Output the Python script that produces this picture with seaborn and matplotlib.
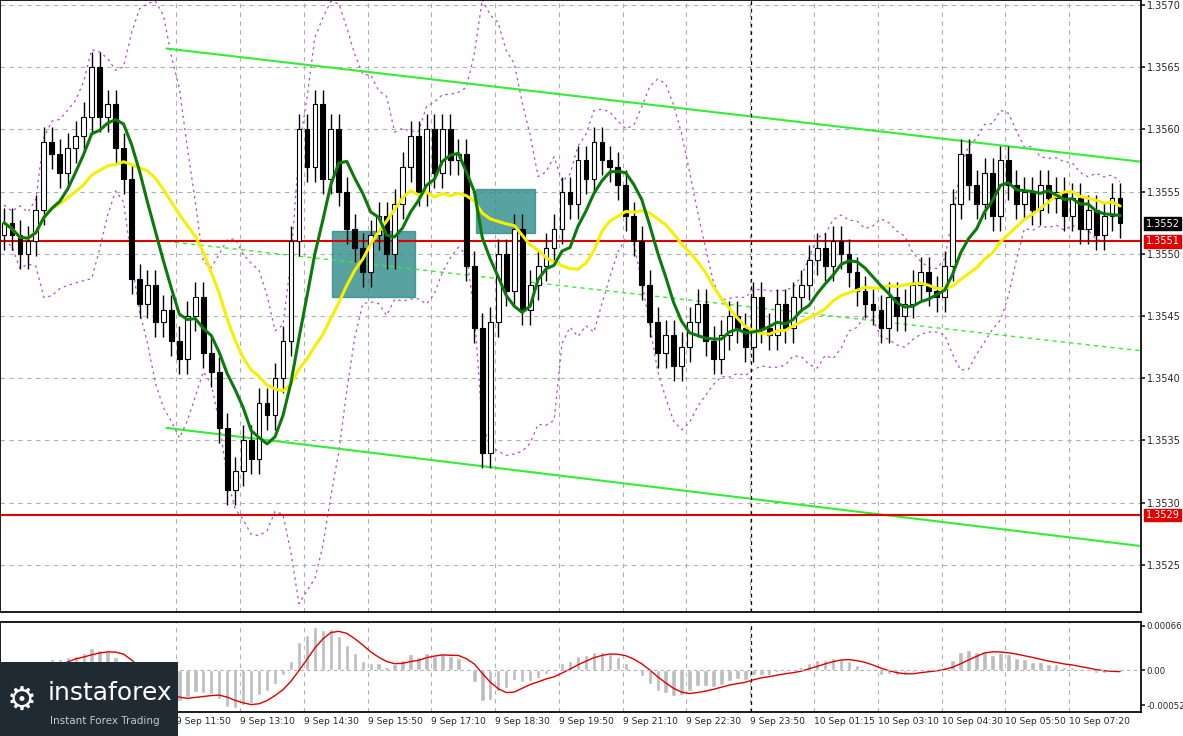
import numpy as np
import pandas as pd
import matplotlib.pyplot as plt
import seaborn as sns
from matplotlib.patches import Rectangle

sns.set_theme(style="white")
plt.rcParams['font.family'] = ['DejaVu Sans']

# closes in pips above 1.3500, one candle per 10 minutes
closes = [52.5, 51.5, 50.0, 51.0, 53.5, 59.0, 58.0, 56.5, 58.5, 59.5, 61.0, 65.0, 61.0, 62.0, 58.5,
          56.0, 48.0, 46.0, 47.5, 44.5, 45.5, 43.0, 41.5, 45.0, 46.5, 42.0, 40.5, 36.0, 31.0, 32.5,
          35.0, 33.5, 38.0, 37.0, 40.0, 43.0, 51.0, 60.0, 57.0, 62.0, 56.0, 60.0, 55.0, 52.0, 50.5,
          48.5, 51.5, 53.0, 50.0, 54.0, 57.0, 59.5, 55.0, 60.0, 56.5, 60.0, 57.5, 58.0, 49.0, 44.0,
          34.0, 44.5, 50.0, 47.0, 52.0, 45.5, 47.5, 49.0, 50.5, 52.0, 55.0, 54.0, 57.5, 56.0, 59.0,
          57.5, 57.0, 55.5, 53.0, 51.0, 47.5, 44.5, 42.0, 43.5, 41.0, 42.5, 44.5, 46.0, 43.0, 41.5,
          43.5, 45.0, 44.0, 42.5, 46.5, 44.0, 43.5, 46.0, 44.0, 46.5, 47.5, 49.5, 50.5, 49.0, 51.0,
          50.0, 48.5, 47.0, 46.0, 45.5, 44.0, 46.5, 45.0, 46.0, 47.5, 48.5, 47.0, 46.5, 49.0, 54.0,
          58.0, 55.5, 54.0, 56.5, 53.0, 57.5, 55.5, 54.0, 55.0, 53.5, 55.5, 54.5, 55.0, 53.0, 54.5,
          52.0, 53.5, 51.5, 53.0, 54.5, 52.5]
time_labels = ['9 Sep 11:50', '9 Sep 13:10', '9 Sep 14:30', '9 Sep 15:50', '9 Sep 17:10',
               '9 Sep 18:30', '9 Sep 19:50', '9 Sep 21:10', '9 Sep 22:30', '9 Sep 23:50',
               '10 Sep 01:15', '10 Sep 03:10', '10 Sep 04:30', '10 Sep 05:50', '10 Sep 07:20']
levels = [1.3551, 1.3529]
upper_channel = [1.35665, 1.35574]
mid_channel = [1.3551, 1.35422]
lower_channel = [1.3536, 1.35265]
boxes = [(41.2, 51.6, 1.35465, 1.35518), (59.2, 66.6, 1.35517, 1.35552)]

df = pd.DataFrame({'close': 1.35 + np.array(closes) / 10000})
df['open'] = df['close'].shift(1).fillna(df['close'].iloc[0] - 0.0001)
wick = 0.00012
df['high'] = df[['open', 'close']].max(axis=1) + wick
df['low'] = df[['open', 'close']].min(axis=1) - wick
df['ma_fast'] = df['close'].rolling(7, min_periods=1).mean()
df['ma_slow'] = df['close'].rolling(15, min_periods=1).mean()
std = df['close'].rolling(10, min_periods=2).std().bfill()
mid = df['close'].rolling(10, min_periods=1).mean()
df['bb_up'] = mid + 2 * std
df['bb_dn'] = mid - 2 * std
macd = df['close'].ewm(span=6, adjust=False).mean() - df['close'].ewm(span=13, adjust=False).mean()
df['macd'] = macd * 1.2
df['signal'] = df['macd'].rolling(5, min_periods=1).mean()
x = np.arange(len(df))

fig = plt.figure(figsize=(11.83, 7.36), dpi=100)
ax = fig.add_axes([0.0, 0.1685, 0.9645, 0.8315])
ax2 = fig.add_axes([0.0, 0.033, 0.9645, 0.122])
xmax = 1141 / 8
for a in (ax, ax2):
    a.set_xlim(-0.5, xmax)
    a.yaxis.tick_right()
    a.tick_params(axis='y', labelsize=7, length=3, pad=1)
    for s in a.spines.values():
        s.set_color('black')
    tick_pos = 21.6 + 8 * np.arange(len(time_labels))
    a.set_xticks(tick_pos)
    a.grid(axis='x', color='#b0b0b0', linestyle=(0, (4, 4)), linewidth=0.8)

ax.set_ylim(1.35212, 1.35704)
ax.set_yticks(np.arange(1.3525, 1.35701, 0.0005))
ax.set_yticklabels([f'{v:.4f}' for v in np.arange(1.3525, 1.35701, 0.0005)])
ax.grid(axis='y', color='#b0b0b0', linestyle=(0, (4, 4)), linewidth=0.8)
ax.set_xticklabels([])

# bands and moving averages
ax.plot(x, df['bb_up'], color='#b04fd0', linestyle=(0, (2, 3)), linewidth=0.9)
ax.plot(x, df['bb_dn'], color='#b04fd0', linestyle=(0, (2, 3)), linewidth=0.9)

for x0, x1, y0, y1 in boxes:
    ax.add_patch(Rectangle((x0, y0), x1 - x0, y1 - y0, color='#2e8b8b', alpha=0.8, zorder=2))

# candles
for i, r in df.iterrows():
    ax.vlines(i, r['low'], r['high'], color='black', linewidth=1, zorder=3)
    bull = r['close'] >= r['open']
    ax.add_patch(Rectangle((i - 0.3, min(r['open'], r['close'])), 0.6,
                           max(abs(r['close'] - r['open']), 0.00002),
                           facecolor='white' if bull else 'black', edgecolor='black',
                           linewidth=0.8, zorder=4))

ax.plot(x, df['ma_slow'], color='#f5f000', linewidth=2.2, zorder=5)
ax.plot(x, df['ma_fast'], color='#0a7a0a', linewidth=2.2, zorder=6)

cx = [163 / 8, xmax]
ax.plot(cx, upper_channel, color='#33ee33', linewidth=1.5, zorder=2)
ax.plot(cx, lower_channel, color='#33ee33', linewidth=1.5, zorder=2)
ax.plot(cx, mid_channel, color='#33ee33', linewidth=1, linestyle=(0, (3, 3)), zorder=2)
for lv in levels:
    ax.axhline(lv, color='#e00000', linewidth=1.5, zorder=2)
ax.axvline(750 / 8, color='black', linewidth=0.9, linestyle=(0, (3, 3)))
ax2.axvline(750 / 8, color='black', linewidth=0.9, linestyle=(0, (3, 3)))

# right-hand price tags
for lv, txt, col in [(1.35524, '1.3552', 'black'), (1.3551, '1.3551', '#e00000'),
                     (1.3529, '1.3529', '#e00000')]:
    ax.text(1.004, lv, txt, transform=ax.get_yaxis_transform(), fontsize=7, color='white',
            va='center', ha='left', bbox=dict(boxstyle='square,pad=0.15', fc=col, ec=col),
            clip_on=False, zorder=10)

# MACD panel
ax2.bar(x, df['macd'], width=0.55, color='#bdbdbd')
ax2.plot(x, df['signal'], color='#e00000', linewidth=1)
ax2.axhline(0, color='#b0b0b0', linestyle=(0, (3, 3)), linewidth=0.8)
ax2.set_ylim(-0.00062, 0.00072)
ax2.set_yticks([-0.00052, 0.0, 0.00066])
ax2.set_yticklabels(['-0.00052', '0.00', '0.00066'], fontsize=6.2)
ax2.set_xticklabels(time_labels, fontsize=6.6, ha='left')
ax2.tick_params(axis='x', length=0, pad=4)

# logo
fig.patches.append(Rectangle((0, 0), 178 / 1183, 74 / 736, transform=fig.transFigure,
                             facecolor='#1f2a33', edgecolor='none', zorder=20))
fig.text(0.040, 0.058, 'instaforex', color='white', fontsize=18, va='center', zorder=21)
fig.text(0.042, 0.020, 'Instant Forex Trading', color='#c8c8c8', fontsize=7.5, va='center', zorder=21)
fig.text(0.018, 0.048, '⚙', color='white', fontsize=24, va='center', ha='center', zorder=21)

plt.savefig('out.png', dpi=100)
